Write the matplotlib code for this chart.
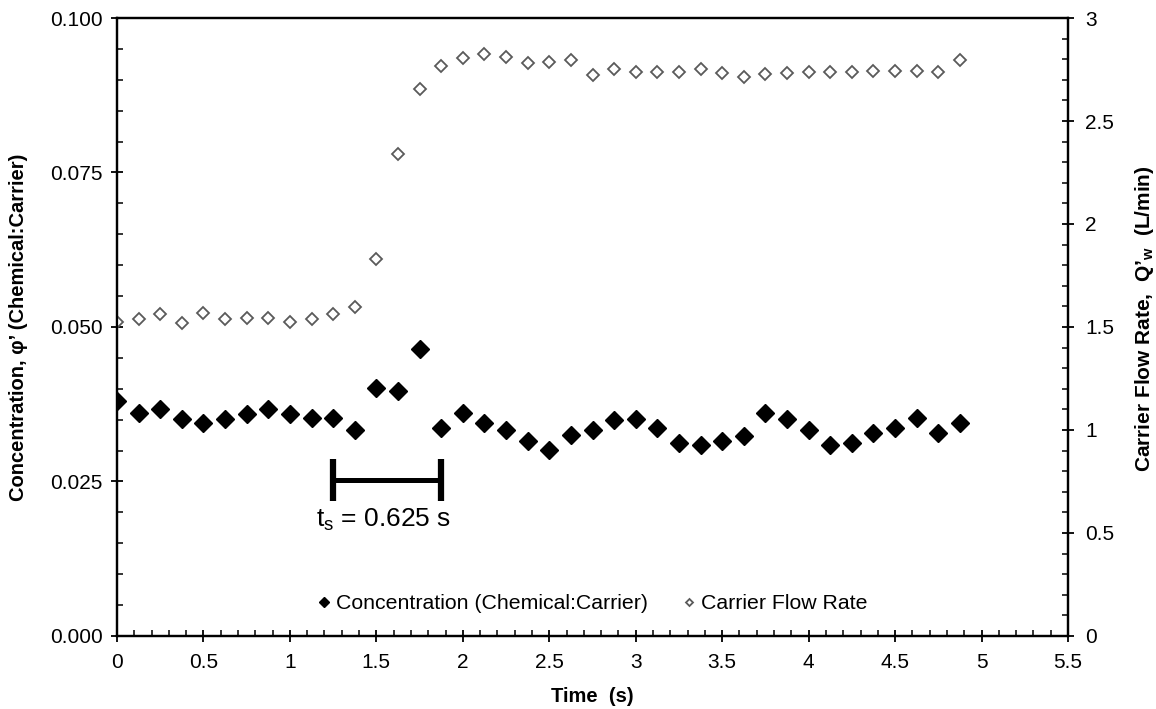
import matplotlib
matplotlib.use("Agg")
from matplotlib import pyplot as plt
from matplotlib.ticker import MultipleLocator, FormatStrFormatter, FuncFormatter

plt.rcParams['font.family'] = ['Liberation Sans', 'DejaVu Sans']
plt.rcParams['mathtext.fontset'] = 'custom'
plt.rcParams['mathtext.rm'] = 'Liberation Sans'
plt.rcParams['mathtext.bf'] = 'Liberation Sans:bold'

# time stamps (s), one sample every 0.125 s
time_s = [0.0, 0.125, 0.25, 0.375, 0.5, 0.625, 0.75, 0.875, 1.0, 1.125,
          1.25, 1.375, 1.5, 1.625, 1.75, 1.875, 2.0, 2.125, 2.25, 2.375,
          2.5, 2.625, 2.75, 2.875, 3.0, 3.125, 3.25, 3.375, 3.5, 3.625,
          3.75, 3.875, 4.0, 4.125, 4.25, 4.375, 4.5, 4.625, 4.75, 4.875]

# concentration phi' (chemical:carrier), left axis
concentration = [0.0380, 0.0361, 0.0367, 0.0351, 0.0344, 0.0351, 0.0359, 0.0368, 0.0359, 0.0352,
                 0.0353, 0.0334, 0.0402, 0.0396, 0.0465, 0.0336, 0.0361, 0.0344, 0.0334, 0.0316,
                 0.0301, 0.0326, 0.0334, 0.0350, 0.0351, 0.0336, 0.0313, 0.0309, 0.0316, 0.0324,
                 0.0361, 0.0351, 0.0334, 0.0309, 0.0313, 0.0328, 0.0336, 0.0352, 0.0328, 0.0344]

# carrier flow rate Q'w (L/min), right axis
flow_rate = [1.523, 1.537, 1.563, 1.518, 1.568, 1.537, 1.542, 1.542, 1.523, 1.537,
             1.563, 1.599, 1.830, 2.340, 2.655, 2.769, 2.807, 2.825, 2.812, 2.783,
             2.788, 2.796, 2.723, 2.751, 2.740, 2.740, 2.740, 2.751, 2.735, 2.712,
             2.728, 2.735, 2.740, 2.740, 2.740, 2.744, 2.744, 2.744, 2.740, 2.796]

# settling-time bracket
ts_start, ts_end = 1.25, 1.875
ts_level = 0.0253
ts_label = r"t$_\mathrm{s}$ = 0.625 s"


def style_axis(axis):
    axis.tick_params(which='major', direction='inout', length=9, width=1.3, labelsize=15)
    axis.tick_params(which='minor', direction='in', length=4.5, width=1.1)
    for sp in axis.spines.values():
        sp.set_linewidth(1.6)


fig = plt.figure(figsize=(11.56, 7.09), dpi=100)
ax = fig.add_axes([0.1012, 0.103, 0.8227, 0.8716])
ax2 = ax.twinx()

h1, = ax.plot(time_s, concentration, linestyle='none', marker='D', markersize=8.8,
              color='black', label='Concentration (Chemical:Carrier)')
h2, = ax2.plot(time_s, flow_rate, linestyle='none', marker='D', markersize=6.5,
               markerfacecolor='white', markeredgecolor='#5a5a5a', markeredgewidth=1.3,
               label='Carrier Flow Rate')

# bracket showing t_s
ax.plot([ts_start, ts_end], [ts_level, ts_level], color='black', linewidth=3.6,
        solid_capstyle='butt')
ax.plot([ts_start, ts_end], [ts_level, ts_level], linestyle='none', marker='|',
        markersize=30, markeredgewidth=4.5, color='black')
ax.text((ts_start + ts_end) / 2 - 0.02, 0.0188, ts_label, fontsize=19,
        ha='center', va='center')

ax.set_xlim(0, 5.5)
ax.set_ylim(0, 0.1)
ax2.set_ylim(0, 3)

ax.xaxis.set_major_locator(MultipleLocator(0.5))
ax.xaxis.set_minor_locator(MultipleLocator(0.1))
ax.yaxis.set_major_locator(MultipleLocator(0.025))
ax.yaxis.set_minor_locator(MultipleLocator(0.005))
ax.yaxis.set_major_formatter(FormatStrFormatter('%.3f'))
ax2.yaxis.set_major_locator(MultipleLocator(0.5))
ax2.yaxis.set_minor_locator(MultipleLocator(0.1))
ax.xaxis.set_major_formatter(FuncFormatter(lambda v, p: f"{v:g}"))
ax2.yaxis.set_major_formatter(FuncFormatter(lambda v, p: f"{v:g}"))

style_axis(ax)
style_axis(ax2)
ax.tick_params(axis='x', pad=8)
ax.tick_params(axis='y', pad=6)
ax2.tick_params(axis='y', pad=8)
ax.tick_params(axis='x', which='both', top=False)

ax.set_xlabel('Time  (s)', fontsize=14.5, fontweight='bold')
ax.set_ylabel('Concentration, φ’ (Chemical:Carrier)', fontsize=14.5, fontweight='bold')
ax2.set_ylabel(r"Carrier Flow Rate,  Q’$_\mathbf{w}$  (L/min)", fontsize=15, fontweight='bold')
ax.xaxis.set_label_coords(0.5, -0.082)
ax.yaxis.set_label_coords(-0.094, 0.5)
ax2.yaxis.set_label_coords(1.068, 0.514)

ax2.legend(handles=[h1, h2], loc='center', bbox_to_anchor=(0.5, 0.052), ncol=2,
           frameon=False, fontsize=15.3, markerscale=0.55, handlelength=0.6,
           handletextpad=0.3, columnspacing=1.6)

fig.savefig('out.png', dpi=100)
